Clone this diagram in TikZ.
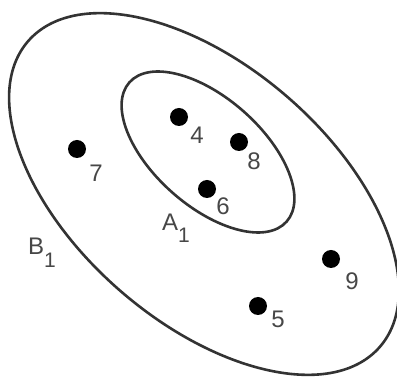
\documentclass[tikz,border=0pt]{standalone}
\usepackage{fontspec}
\setmainfont{Liberation Sans}
\begin{document}
\begin{tikzpicture}[x=1pt,y=-1pt,
  setline/.style={draw=black!80, line width=2.6pt},
  dot/.style={circle, fill=black, inner sep=0pt, minimum size=18pt},
  lbl/.style={inner sep=0pt, text=black!72, font=\fontsize{24}{24}\selectfont},
  sub/.style={inner sep=0pt, text=black!72, font=\fontsize{24}{24}\selectfont}]
\useasboundingbox (0,0) rectangle (397,379);
% sets
\draw[setline, rotate around={-41:(204,194)}] (204,194) ellipse [x radius=233, y radius=128];
\draw[setline, rotate around={-41.5:(208,152)}] (208,152) ellipse [x radius=105, y radius=54];
% points
\node[dot] (p4) at (179,117) {};
\node[dot] (p8) at (239,142) {};
\node[dot] (p6) at (207,189) {};
\node[dot] (p7) at (77,149) {};
\node[dot] (p9) at (331,259) {};
\node[dot] (p5) at (258,306) {};
% labels
\node[lbl] (l4) at (197,135) {4};
\node[lbl] (l8) at (254,161) {8};
\node[lbl] (l6) at (223,206) {6};
\node[lbl] (l7) at (96,173) {7};
\node[lbl] (l9) at (352,281) {9};
\node[lbl] (l5) at (278,319) {5};
\node[sub, anchor=base west] (a1) at (162,231) {A\raisebox{-12pt}{\fontsize{21}{21}\selectfont 1}};
\node[sub, anchor=base west] (b1) at (28,255) {B\raisebox{-13pt}{\fontsize{21}{21}\selectfont 1}};
\end{tikzpicture}
\end{document}
